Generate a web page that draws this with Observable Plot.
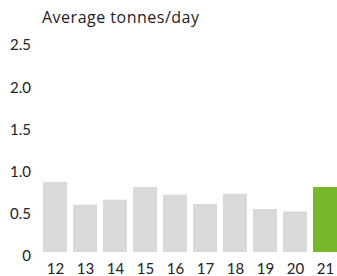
<!DOCTYPE html>
<html>
<head>
<meta charset="utf-8">
<script src="https://cdn.jsdelivr.net/npm/d3@7"></script>
<script src="https://cdn.jsdelivr.net/npm/@observablehq/plot@0.6"></script>
<style>
  html, body { margin: 0; padding: 0; background: #fff; overflow: hidden; }
  #wrap { width: 337px; height: 276px; position: relative; font-family: Lato, "Open Sans", sans-serif; color: #222; }
  #title { height: 28px; box-sizing: border-box; padding: 3px 0 0 42px; font-family: "Open Sans", Lato, sans-serif; font-size: 16px; letter-spacing: 0.5px; line-height: 28px; white-space: nowrap; }
</style>
</head>
<body>
<div id="wrap">
  <div id="title">Average tonnes/day</div>
  <div id="chart"></div>
</div>
<script>
const years = ["12", "13", "14", "15", "16", "17", "18", "19", "20", "21"];
const values = [0.83, 0.56, 0.62, 0.77, 0.68, 0.57, 0.69, 0.51, 0.48, 0.77];
const highlightYear = "21";
const yTicks = [0, 0.5, 1.0, 1.5, 2.0, 2.5];

const data = years.map((y, i) => ({year: y, value: values[i], hl: y === highlightYear}));
const fmt = d => d === 0 ? "0" : d.toFixed(1);

const chart = Plot.plot({
  width: 337,
  height: 248,
  marginTop: 13,
  marginBottom: 24,
  marginLeft: 35.4,
  marginRight: -8.4,
  style: {fontFamily: "Lato, 'Open Sans', sans-serif", fontSize: "15px", color: "#222", background: "transparent", overflow: "hidden"},
  x: {domain: years, padding: 0.185, label: null},
  y: {domain: [0, 2.5], label: null},
  marks: [
    Plot.axisY({ticks: yTicks, tickSize: 0, tickPadding: 5, label: null, dy: 4, tickFormat: fmt}),
    Plot.axisX({tickSize: 0, tickPadding: 11, label: null}),
    Plot.barY(data, {x: "year", y: "value", fill: d => d.hl ? "#77b82a" : "#d9d9d9"})
  ]
});
document.getElementById("chart").appendChild(chart);
</script>
</body>
</html>
